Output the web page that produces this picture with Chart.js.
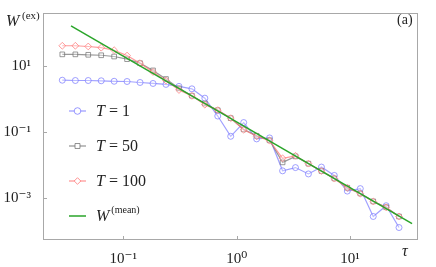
<!DOCTYPE html>
<html>
<head>
<meta charset="utf-8">
<script src="https://cdn.jsdelivr.net/npm/chart.js@4.4.1/dist/chart.umd.min.js"></script>
<style>
  body { margin: 0; background: #fff; }
  #wrap { width: 436px; height: 267px; }
</style>
</head>
<body>
<div id="wrap"><canvas id="chart"></canvas></div>
<script>
const tau = [0.0290, 0.0378, 0.0491, 0.0639, 0.0831, 0.108, 0.1406, 0.183, 0.238, 0.310,
  0.403, 0.524, 0.681, 0.886, 1.153, 1.50, 1.95, 2.54, 3.30, 4.29,
  5.59, 7.26, 9.45, 12.3, 16.0, 20.8, 27.0];

const wT1 = [3.73, 3.65, 3.65, 3.58, 3.46, 3.41, 3.18, 2.97, 2.78, 2.42,
  2.04, 1.06, 0.303, 0.0734, 0.192, 0.0611, 0.0654, 0.00653, 0.0082, 0.00525,
  0.0085, 0.00474, 0.00158, 0.00188, 0.000267, 0.000567, 0.000123];

const wT50 = [22.8, 22.8, 22.1, 21.4, 19.6, 16.3, 12.3, 7.4, 4.05, 2.11,
  1.26, 0.73, 0.455, 0.261, 0.119, 0.076, 0.0555, 0.0118, 0.018, 0.0108,
  0.00646, 0.00385, 0.0020, 0.00134, 0.00077, 0.00051, 0.000267];

const wT100 = [41.6, 41.6, 39.6, 36.3, 30.5, 20.9, 12.3, 6.63, 3.65, 1.88,
  1.245, 0.672, 0.458, 0.261, 0.116, 0.0734, 0.054, 0.0157, 0.0187, 0.0108,
  0.00646, 0.00378, 0.00199, 0.00132, 0.00076, 0.000504, 0.000267];

const meanTau = [0.0346, 35.2];
const meanW = [167, 0.000161];

const xTicks = [0.1, 1, 10];
const xTickLabels = ['10\u207B\u00B9', '10\u2070', '10\u00B9'];
const yTicks = [10, 0.1, 0.001];
const yTickLabels = ['10\u00B9', '10\u207B\u00B9', '10\u207B\u00B3'];

const pts = (xs, ys) => xs.map((x, i) => ({ x: x, y: ys[i] }));

const SERIF = "'Liberation Serif', 'DejaVu Serif', serif";
Chart.defaults.font.family = SERIF;
Chart.defaults.color = '#222';

const legendItems = [
  { label: ['T', ' = 1'], color: 'rgba(120,120,255,0.75)', marker: 'circle', y: 111 },
  { label: ['T', ' = 50'], color: 'rgba(110,110,110,0.75)', marker: 'rect', y: 146 },
  { label: ['T', ' = 100'], color: 'rgba(255,120,120,0.8)', marker: 'diamond', y: 181 },
  { label: ['W', '(mean)'], color: '#2aa52a', marker: null, y: 216 }
];

function marker(ctx, type, x, y, r) {
  ctx.beginPath();
  if (type === 'circle') ctx.arc(x, y, r, 0, Math.PI * 2);
  else if (type === 'rect') ctx.rect(x - r * 0.75, y - r * 0.75, r * 1.5, r * 1.5);
  else if (type === 'diamond') {
    ctx.moveTo(x, y - r); ctx.lineTo(x + r, y); ctx.lineTo(x, y + r); ctx.lineTo(x - r, y); ctx.closePath();
  }
  ctx.fillStyle = '#fff';
  ctx.fill();
  ctx.stroke();
}

const frame = {
  id: 'frame',
  beforeDatasetsDraw(chart) {
    const { ctx, chartArea: a, scales } = chart;
    ctx.save();
    ctx.strokeStyle = '#a8a8a8';
    ctx.lineWidth = 1;
    ctx.strokeRect(a.left + 0.5, a.top + 0.5, a.right - a.left - 1, a.bottom - a.top - 1);
    ctx.beginPath();
    xTicks.forEach(v => {
      const px = Math.round(scales.x.getPixelForValue(v)) + 0.5;
      ctx.moveTo(px, a.bottom); ctx.lineTo(px, a.bottom - 4);
    });
    yTicks.forEach(v => {
      const py = Math.round(scales.y.getPixelForValue(v)) + 0.5;
      ctx.moveTo(a.left, py); ctx.lineTo(a.left + 4, py);
    });
    ctx.stroke();
    ctx.restore();
  },
  afterDraw(chart) {
    const { ctx } = chart;
    ctx.save();
    ctx.fillStyle = '#222';
    ctx.textBaseline = 'alphabetic';
    // y axis title
    ctx.font = 'italic 16px ' + SERIF;
    ctx.fillText('W', 6, 26);
    ctx.font = '11px ' + SERIF;
    ctx.fillText('(ex)', 22, 19);
    // x axis title
    ctx.font = 'italic 16px ' + SERIF;
    ctx.fillText('\u03C4', 402, 256);
    // panel tag
    ctx.font = '14px ' + SERIF;
    ctx.fillText('(a)', 397, 24);
    // legend
    legendItems.forEach(it => {
      ctx.strokeStyle = it.color;
      ctx.lineWidth = it.marker ? 1.2 : 1.5;
      ctx.beginPath();
      ctx.moveTo(69, it.y); ctx.lineTo(86, it.y);
      ctx.stroke();
      ctx.lineWidth = 1;
      if (it.marker) marker(ctx, it.marker, 77.5, it.y, 3.3);
      ctx.fillStyle = '#222';
      ctx.font = 'italic 16px ' + SERIF;
      const ty = it.y + 5;
      ctx.fillText(it.label[0], 96, ty);
      const w = ctx.measureText(it.label[0]).width;
      if (it.marker) {
        ctx.font = '16px ' + SERIF;
        ctx.fillText(it.label[1], 96 + w, ty);
      } else {
        ctx.font = '10px ' + SERIF;
        ctx.fillText(it.label[1], 96 + w + 2, ty - 8);
      }
    });
    ctx.restore();
  }
};

const ctx = document.getElementById('chart').getContext('2d');
const chart = new Chart(ctx, {
  type: 'scatter',
  data: {
    datasets: [
      {
        label: 'W(mean)',
        data: pts(meanTau, meanW),
        showLine: true,
        borderColor: '#2aa52a',
        borderWidth: 1.5,
        pointRadius: 0,
        order: 0
      },
      {
        label: 'T = 100',
        data: pts(tau, wT100),
        showLine: true,
        borderColor: 'rgba(255,120,120,0.75)',
        backgroundColor: 'rgba(255,255,255,0.3)',
        borderWidth: 1.2,
        pointStyle: 'rectRot',
        pointRadius: 3.4,
        pointBorderWidth: 1,
        order: 1
      },
      {
        label: 'T = 50',
        data: pts(tau, wT50),
        showLine: true,
        borderColor: 'rgba(110,110,110,0.7)',
        backgroundColor: 'rgba(255,255,255,0.3)',
        borderWidth: 1.2,
        pointStyle: 'rect',
        pointRadius: 3.3,
        pointBorderWidth: 1,
        order: 2
      },
      {
        label: 'T = 1',
        data: pts(tau, wT1),
        showLine: true,
        borderColor: 'rgba(120,120,255,0.7)',
        backgroundColor: 'rgba(255,255,255,0.3)',
        borderWidth: 1.2,
        pointStyle: 'circle',
        pointRadius: 3,
        pointBorderWidth: 1,
        order: 3
      }
    ]
  },
  options: {
    responsive: true,
    maintainAspectRatio: false,
    animation: false,
    layout: { padding: { top: 8, right: 18, left: 0, bottom: 0 } },
    plugins: {
      legend: { display: false },
      tooltip: { enabled: false }
    },
    scales: {
      x: {
        type: 'logarithmic',
        min: 0.0196,
        max: 39.7,
        bounds: 'data',
        grid: { display: false },
        border: { display: false },
        afterBuildTicks: s => { s.ticks = xTicks.map(v => ({ value: v })); },
        afterFit: s => { s.height = 27; },
        ticks: {
          autoSkip: false,
          maxRotation: 0,
          padding: 2,
          font: { size: 15 },
          color: '#222',
          callback: v => xTickLabels[xTicks.indexOf(v)] || ''
        }
      },
      y: {
        type: 'logarithmic',
        min: 5.14e-5,
        max: 413,
        bounds: 'data',
        grid: { display: false },
        border: { display: false },
        afterBuildTicks: s => { s.ticks = yTicks.map(v => ({ value: v })); },
        afterFit: s => { s.width = 43; },
        ticks: {
          autoSkip: false,
          padding: 4,
          font: { size: 15 },
          color: '#222',
          callback: v => yTickLabels[yTicks.indexOf(v)] || ''
        }
      }
    }
  },
  plugins: [frame]
});
</script>
</body>
</html>
